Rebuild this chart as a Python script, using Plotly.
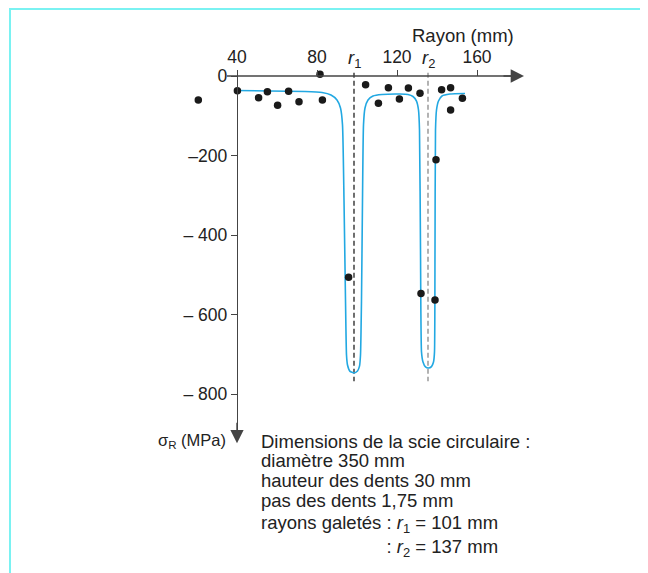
import plotly.graph_objects as go

# ---------------- data ----------------
curve_x = [40, 56.5, 74, 82.5, 87, 90, 91.75, 92.75, 93.5, 94.25, 94.75, 95.25, 96.5, 98.5,
           100.25, 101.25, 101.75, 102.25, 102.75, 103.25, 104, 105.5, 108, 112.5, 121.5,
           125.5, 128, 129.75, 130.75, 131.25, 131.75, 132.25, 133, 134.25, 135.75, 137.25,
           138.25, 138.75, 139, 139.25, 139.75, 140.75, 142.5, 146.5, 154]
curve_y = [-36.5, -37.7, -39, -41.5, -47.8, -60.4, -80.5, -123, -312, -563, -702, -727, -743, -747,
           -742, -730, -702, -563, -312, -123, -80.5, -60.4, -50.3, -46.5, -45.3,
           -46.5, -51.6, -63, -85.5, -136, -438, -694, -719.5, -732, -734.6, -731,
           -719.5, -694, -438, -136, -85.5, -63, -50.3, -45.3, -44]

pts_x = [20.65, 40.2, 50.8, 55.2, 60.3, 65.8, 71, 82.7, 81.5, 104.3, 110.7, 115.7, 121.2,
         125.7, 131.5, 142.3, 146.8, 146.8, 152.7, 95.8, 132, 139, 139.5]
pts_y = [-60.4, -37, -54.6, -39.5, -73.7, -38.5, -64.7, -60.4, 4.3, -21.9, -68.7, -29.4, -57.9,
         -30.2, -43.5, -34.5, -29.4, -85.5, -56.1, -506, -547, -563.5, -211]

x_tickvals = [40, 80, 120, 160]
x_ticktext = ["40", "80", "120", "160"]
y_tickvals = [0, -200, -400, -600, -800]
y_ticktext = ["0", "–200", "– 400", "– 600", "– 800"]

r_line_pos = [98.5, 135.5]
r_labels = ["<i>r</i><sub>1</sub>", "<i>r</i><sub>2</sub>"]
r_colors = ["#222222", "#8a8a8a"]

info_lines = ["Dimensions de la scie circulaire :",
              "diamètre 350 mm",
              "hauteur des dents 30 mm",
              "pas des dents 1,75 mm"]
info_last = "rayons galetés : <i>r</i><sub>1</sub> = 101 mm<br>: <i>r</i><sub>2</sub> = 137 mm"

# ---------------- layout geometry ----------------
OFF = 8                      # page offset of the figure inside the window
W, H = 648, 573
ML, MR, MT, MB = 190 - OFF, 144, 70 - OFF, 144
PW, PH = W - ML - MR, H - MT - MB
X40 = 237 - OFF              # figure px where x = 40
Y0 = 76 - OFF                # figure px where y = 0
XS = 2.0                     # px per mm
YS = 0.3975                  # px per MPa
x_range = [40 - (X40 - ML) / XS, 40 + (W - MR - X40) / XS]
y_top = (Y0 - MT) / YS
y_range = [y_top - PH / YS, y_top]
x_line_start = 40 - 10 / XS


def px(xp):
    return (xp - OFF - ML) / PW


def py(yp):
    return (H - MB - (yp - OFF)) / PH


def dx2paper(v):
    return (v - x_range[0]) / (x_range[1] - x_range[0])


def dy2paper(v):
    return (v - y_range[0]) / (y_range[1] - y_range[0])


FONT = "Liberation Sans, Arial, Helvetica, sans-serif"
AX = "#444444"
TXT = 18.5

fig = go.Figure()

fig.add_trace(go.Scatter(x=curve_x, y=curve_y, mode="lines",
                         line=dict(color="#22a8e2", width=1.6, shape="spline", smoothing=0.5),
                         hoverinfo="skip", showlegend=False))
fig.add_trace(go.Scatter(x=pts_x, y=pts_y, mode="markers", cliponaxis=False,
                         marker=dict(color="#1a1a1a", size=7.5), showlegend=False))

# dashed r lines
for xv, c in zip(r_line_pos, r_colors):
    fig.add_shape(type="line", x0=xv, x1=xv, y0=8, y1=-768, xref="x", yref="y",
                  line=dict(color=c, width=1.3, dash="5px,3px"), layer="below")

# x axis line (starts just left of the y axis)
fig.add_shape(type="line", x0=x_line_start, x1=x_range[1], y0=0, y1=0, xref="x", yref="y",
              line=dict(color=AX, width=1.4))

y_axis_pos = dx2paper(40)
x_axis_pos = dy2paper(0)

fig.update_layout(
    template="none",
    width=W, height=H,
    margin=dict(l=ML, r=MR, t=MT, b=MB, pad=0),
    paper_bgcolor="white", plot_bgcolor="white",
    font=dict(family=FONT, size=TXT, color="#222222"),
    xaxis=dict(range=x_range, side="top", anchor="free", position=x_axis_pos, automargin=False,
               showgrid=False, zeroline=False, showline=False,
               ticks="outside", ticklen=6, tickcolor=AX, tickwidth=1.2,
               tickvals=x_tickvals, ticktext=x_ticktext, tickfont=dict(size=17.5)),
    yaxis=dict(range=y_range, anchor="free", position=y_axis_pos, automargin=False,
               showgrid=False, zeroline=False, showline=True, linecolor=AX, linewidth=1.4,
               ticks="outside", ticklen=6, tickcolor=AX, tickwidth=1.2,
               tickvals=y_tickvals, ticktext=y_ticktext, tickfont=dict(size=17.5)),
    showlegend=False,
)

# arrowheads on the axes (paper-referenced so they are not hidden outside the ranges)
fig.add_annotation(x=dx2paper(x_range[1] + 6), y=x_axis_pos, xref="paper", yref="paper",
                   ax=-22, ay=0, text="", showarrow=True, arrowhead=2, arrowsize=1.9,
                   arrowwidth=1.4, arrowcolor=AX)
fig.add_annotation(x=y_axis_pos, y=dy2paper(y_range[0] - 16), xref="paper", yref="paper",
                   ax=0, ay=-22, text="", showarrow=True, arrowhead=2, arrowsize=1.9,
                   arrowwidth=1.4, arrowcolor=AX)

# r labels
for xv, t in zip(r_line_pos, r_labels):
    fig.add_annotation(x=xv, y=0, xref="x", yref="y", text=t, showarrow=False,
                       xanchor="center", yanchor="bottom", yshift=3, font=dict(size=TXT))

# axis titles
fig.add_annotation(x=px(463), y=py(36), xref="paper", yref="paper", text="Rayon (mm)",
                   showarrow=False, xanchor="center", yanchor="middle", font=dict(size=TXT))
fig.add_annotation(x=px(228), y=py(441), xref="paper", yref="paper",
                   text="σ<sub>R</sub> (MPa)", showarrow=False, xanchor="right",
                   yanchor="middle", font=dict(size=16.5))

# info text block
info_y = [441, 460, 480, 500]
for t, yy in zip(info_lines, info_y):
    fig.add_annotation(x=px(259), y=py(yy), xref="paper", yref="paper", text=t,
                       showarrow=False, xanchor="left", yanchor="middle", font=dict(size=TXT))
fig.add_annotation(x=px(259), y=py(510), xref="paper", yref="paper", text=info_last,
                   showarrow=False, xanchor="left", yanchor="top", align="right",
                   font=dict(size=TXT))

# frame
fig.add_shape(type="line", xref="paper", yref="paper", x0=px(10), x1=px(10), y0=py(9), y1=py(H + 5),
              line=dict(color="#7af2f2", width=2))
fig.add_shape(type="line", xref="paper", yref="paper", x0=px(9), x1=px(W + 5), y0=py(9), y1=py(9),
              line=dict(color="#7af2f2", width=2))

fig.write_html("out.html")
